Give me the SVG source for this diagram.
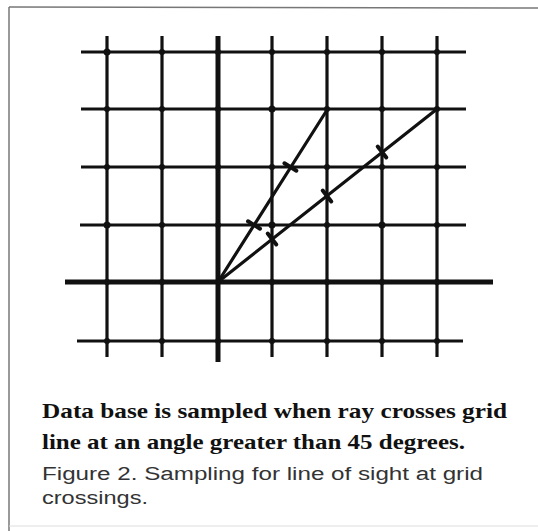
<svg xmlns="http://www.w3.org/2000/svg" width="538" height="531" viewBox="0 0 538 531">
<style>
.grid line{stroke:#111;stroke-width:3.2;stroke-linecap:butt}
.grid line.thick{stroke-width:5}
.dot{fill:#111}
.ray{stroke:#111;stroke-width:3.2;fill:none;stroke-linecap:round}
.tick{stroke:#111;stroke-width:4;stroke-linecap:round}
.bold{font-family:"Liberation Serif","Times New Roman",serif;font-weight:bold;font-size:22px;fill:#111}
.cap{font-family:"Liberation Sans",Arial,sans-serif;font-size:18px;fill:#333}
</style>
<rect x="0" y="0" width="538" height="531" fill="#fff"/>
<g id="frame" fill="none">
<line x1="9" y1="7" x2="538" y2="8" stroke="#777" stroke-width="1.5"/>
<line x1="9" y1="7" x2="9" y2="531" stroke="#777" stroke-width="1.5"/>
<line x1="9" y1="526" x2="538" y2="526" stroke="#ddd" stroke-width="1"/>
</g>
<g id="grid" class="grid">
<line x1="107" y1="36" x2="107" y2="357"/>
<line x1="162" y1="36" x2="162" y2="357"/>
<line class="thick" x1="218" y1="36" x2="218" y2="362"/>
<line x1="272" y1="36" x2="272" y2="357"/>
<line x1="327" y1="36" x2="327" y2="357"/>
<line x1="382" y1="36" x2="382" y2="357"/>
<line x1="437" y1="36" x2="437" y2="357"/>
<line x1="81" y1="52" x2="466" y2="52"/>
<line x1="81" y1="109" x2="466" y2="109"/>
<line x1="81" y1="167" x2="466" y2="167"/>
<line x1="80" y1="225" x2="466" y2="225"/>
<line class="thick" x1="65" y1="282" x2="493" y2="282"/>
<line x1="77" y1="341" x2="463" y2="341"/>
</g>
<g id="dots" class="dot">
<circle cx="107" cy="52" r="3.5"/><circle cx="162" cy="52" r="3"/><circle cx="218" cy="52" r="3"/><circle cx="272" cy="52" r="3"/><circle cx="327" cy="52" r="3"/><circle cx="382" cy="52" r="3"/><circle cx="437" cy="52" r="3"/>
<circle cx="107" cy="109" r="3"/><circle cx="162" cy="109" r="3"/><circle cx="218" cy="109" r="3"/><circle cx="272" cy="109" r="3.5"/><circle cx="327" cy="109" r="3"/><circle cx="382" cy="109" r="3"/><circle cx="437" cy="109" r="3"/>
<circle cx="107" cy="167" r="3"/><circle cx="162" cy="167" r="3"/><circle cx="218" cy="167" r="3"/><circle cx="272" cy="167" r="3"/><circle cx="327" cy="167" r="3"/><circle cx="382" cy="167" r="3"/><circle cx="437" cy="167" r="3"/>
<circle cx="107" cy="225" r="3.5"/><circle cx="162" cy="225" r="3"/><circle cx="218" cy="225" r="3"/><circle cx="272" cy="225" r="3.5"/><circle cx="327" cy="225" r="3"/><circle cx="382" cy="225" r="3.5"/><circle cx="437" cy="225" r="3"/>
<circle cx="107" cy="282" r="3"/><circle cx="162" cy="282" r="3"/><circle cx="272" cy="282" r="3"/><circle cx="327" cy="282" r="3"/><circle cx="382" cy="282" r="3"/><circle cx="437" cy="282" r="3"/>
<circle cx="107" cy="341" r="3"/><circle cx="162" cy="341" r="3"/><circle cx="218" cy="341" r="3"/><circle cx="272" cy="341" r="3"/><circle cx="327" cy="341" r="3"/><circle cx="382" cy="341" r="3"/><circle cx="437" cy="341" r="3"/>
</g>
<g id="connectors">
<line class="ray" x1="218" y1="282" x2="327" y2="110"/>
<line class="ray" x1="218" y1="282" x2="437" y2="109"/>
<line class="tick" x1="248" y1="221.3" x2="260" y2="228.7"/>
<line class="tick" x1="284.4" y1="163.3" x2="296.4" y2="170.7"/>
<line class="tick" x1="267.7" y1="233.5" x2="276.3" y2="244.5"/>
<line class="tick" x1="322.7" y1="190.5" x2="331.3" y2="201.5"/>
<line class="tick" x1="377.7" y1="146.5" x2="386.3" y2="157.5"/>
</g>
<g id="caption">
<text class="bold" x="42" y="418" textLength="465" lengthAdjust="spacingAndGlyphs">Data base is sampled when ray crosses grid</text>
<text class="bold" x="42" y="449" textLength="423" lengthAdjust="spacingAndGlyphs">line at an angle greater than 45 degrees.</text>
<text class="cap" x="42" y="480" textLength="441" lengthAdjust="spacingAndGlyphs">Figure 2. Sampling for line of sight at grid</text>
<text class="cap" x="42" y="504" textLength="106" lengthAdjust="spacingAndGlyphs">crossings.</text>
</g>
</svg>
